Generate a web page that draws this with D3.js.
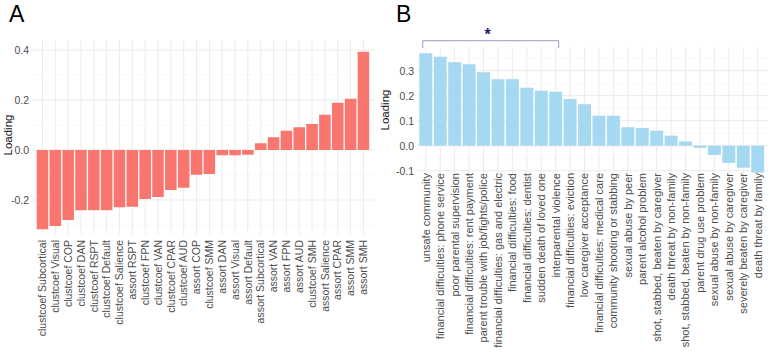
<!DOCTYPE html>
<html>
<head>
<meta charset="utf-8">
<script src="https://cdn.jsdelivr.net/npm/d3@7"></script>
<style>
  body { margin: 0; background: #fff; }
  svg { font-family: "Liberation Sans", Arial, sans-serif; }
</style>
</head>
<body>
<div id="chart"></div>
<script>
const width = 770;
const height = 354;

// panel A data
const catsA = ["clustcoef Subcortical", "clustcoef Visual", "clustcoef COP", "clustcoef DAN",
  "clustcoef RSPT", "clustcoef Default", "clustcoef Salience", "assort RSPT", "clustcoef FPN",
  "clustcoef VAN", "clustcoef CPAR", "clustcoef AUD", "assort COP", "clustcoef SMM", "assort DAN",
  "assort Visual", "assort Default", "assort Subcortical", "assort VAN", "assort FPN", "assort AUD",
  "clustcoef SMH", "assort Salience", "assort CPAR", "assort SMM", "assort SMH"];
const valsA = [-0.317, -0.304, -0.28, -0.241, -0.241, -0.241, -0.229, -0.227, -0.196, -0.188,
  -0.16, -0.151, -0.099, -0.096, -0.021, -0.021, -0.019, 0.027, 0.051, 0.077, 0.091, 0.104,
  0.141, 0.189, 0.205, 0.393];
const ticksA = [-0.2, 0.0, 0.2, 0.4];
const minorA = [-0.3, -0.1, 0.1, 0.3];

// panel B data
const catsB = ["unsafe community", "financial difficulties: phone service", "poor parental supervision",
  "financial difficulties: rent payment", "parent trouble with job/fights/police",
  "financial difficulties: gas and electric", "financial difficulties: food",
  "financial difficulties: dentist", "sudden death of loved one", "interparental violence",
  "financial difficulties: eviction", "low caregiver acceptance", "financial difficulties: medical care",
  "community shooting or stabbing", "sexual abuse by peer", "parent alcohol problem",
  "shot, stabbed, beaten by caregiver", "death threat by non-family",
  "shot, stabbed, beaten by non-family", "parent drug use problem", "sexual abuse by non-family",
  "sexual abuse by caregiver", "severely beaten by caregiver", "death threat by family"];
const valsB = [0.370, 0.356, 0.334, 0.326, 0.294, 0.266, 0.266, 0.232, 0.220, 0.216, 0.187, 0.166,
  0.12, 0.12, 0.074, 0.071, 0.06, 0.04, 0.017, -0.009, -0.037, -0.069, -0.088, -0.108];
const ticksB = [-0.1, 0.0, 0.1, 0.2, 0.3];
const minorB = [-0.05, 0.05, 0.15, 0.25, 0.35];
const bracketB = ["unsafe community", "interparental violence"];

const svg = d3.select("#chart").append("svg")
  .attr("width", width)
  .attr("height", height);

function drawPanel(cfg) {
  const g = svg.append("g");
  const x = d3.scaleBand().domain(cfg.cats).range(cfg.xRange).paddingInner(0.1).paddingOuter(0);
  const y = d3.scaleLinear().domain(cfg.yDomain).range(cfg.yRange);

  // minor gridlines
  g.selectAll(".minor").data(cfg.minor).enter().append("line")
    .attr("x1", cfg.panel[0]).attr("x2", cfg.panel[1])
    .attr("y1", d => y(d)).attr("y2", d => y(d))
    .attr("stroke", "#f4f4f4").attr("stroke-width", 0.6);
  // major gridlines
  g.selectAll(".major").data(cfg.ticks).enter().append("line")
    .attr("x1", cfg.panel[0]).attr("x2", cfg.panel[1])
    .attr("y1", d => y(d)).attr("y2", d => y(d))
    .attr("stroke", "#ebebeb").attr("stroke-width", 1);
  g.selectAll(".vgrid").data(cfg.cats).enter().append("line")
    .attr("x1", d => x(d) + x.bandwidth() / 2).attr("x2", d => x(d) + x.bandwidth() / 2)
    .attr("y1", cfg.panel[2]).attr("y2", cfg.panel[3])
    .attr("stroke", "#ebebeb").attr("stroke-width", 1);

  g.selectAll(".bar").data(cfg.vals).enter().append("rect")
    .attr("x", (d, i) => x(cfg.cats[i]))
    .attr("width", x.bandwidth())
    .attr("y", d => y(Math.max(0, d)))
    .attr("height", d => Math.abs(y(d) - y(0)))
    .attr("fill", cfg.color);

  // y axis
  const yAxis = g.append("g")
    .attr("transform", `translate(${cfg.panel[0] - 1},0)`)
    .call(d3.axisLeft(y).tickValues(cfg.ticks).tickFormat(d3.format(".1f")).tickSize(0).tickPadding(2));
  yAxis.select(".domain").remove();
  yAxis.selectAll("text").attr("fill", "#4d4d4d").style("font-size", "10.5px")
    .text(d => d3.format(".1f")(d).replace("−", "-"));

  // x labels
  g.selectAll(".xlab").data(cfg.cats).enter().append("text")
    .attr("transform", d => `translate(${x(d) + x.bandwidth() / 2},${cfg.labelTop}) rotate(-90)`)
    .attr("text-anchor", "end")
    .attr("dy", "0.35em")
    .attr("fill", "#4d4d4d")
    .style("font-size", cfg.labelSize)
    .text(d => d);

  g.append("text")
    .attr("transform", `translate(${cfg.titleX},${cfg.titleY}) rotate(-90)`)
    .attr("text-anchor", "middle")
    .attr("dy", "0.35em")
    .attr("fill", "#111")
    .style("font-size", "11.5px")
    .text("Loading");

  g.append("text")
    .attr("x", cfg.tagX).attr("y", 22)
    .attr("fill", "#000")
    .style("font-size", "23px")
    .text(cfg.tag);

  return { x, y, g };
}

drawPanel({
  cats: catsA, vals: valsA, ticks: ticksA, minor: minorA,
  xRange: [36.7, 369.2], yDomain: [-0.2, 0.4], yRange: [200, 50],
  panel: [32, 374, 40, 234], color: "#F8766D",
  labelTop: 240, labelSize: "10.5px", titleX: 8, titleY: 135, tag: "A", tagX: 9
});

const pB = drawPanel({
  cats: catsB, vals: valsB, ticks: ticksB, minor: minorB,
  xRange: [419.3, 764.2], yDomain: [-0.1, 0.3], yRange: [170.7, 70.7],
  panel: [417, 768, 47, 178], color: "#A7D8F2",
  labelTop: 173, labelSize: "11px", titleX: 385, titleY: 110, tag: "B", tagX: 396
});

// significance bracket
const bx0 = pB.x(bracketB[0]) + pB.x.bandwidth() / 2 - 3;
const bx1 = pB.x(bracketB[1]) + pB.x.bandwidth() / 2 + 3;
pB.g.append("path")
  .attr("d", `M${bx0},48 V40.7 H${bx1} V48`)
  .attr("fill", "none")
  .attr("stroke", "#9a9ac8")
  .attr("stroke-width", 1);
pB.g.append("text")
  .attr("x", (bx0 + bx1) / 2 - 3).attr("y", 40)
  .attr("text-anchor", "middle")
  .attr("fill", "#1f1f66")
  .style("font-size", "16px")
  .style("font-weight", "bold")
  .text("*");
</script>
</body>
</html>
